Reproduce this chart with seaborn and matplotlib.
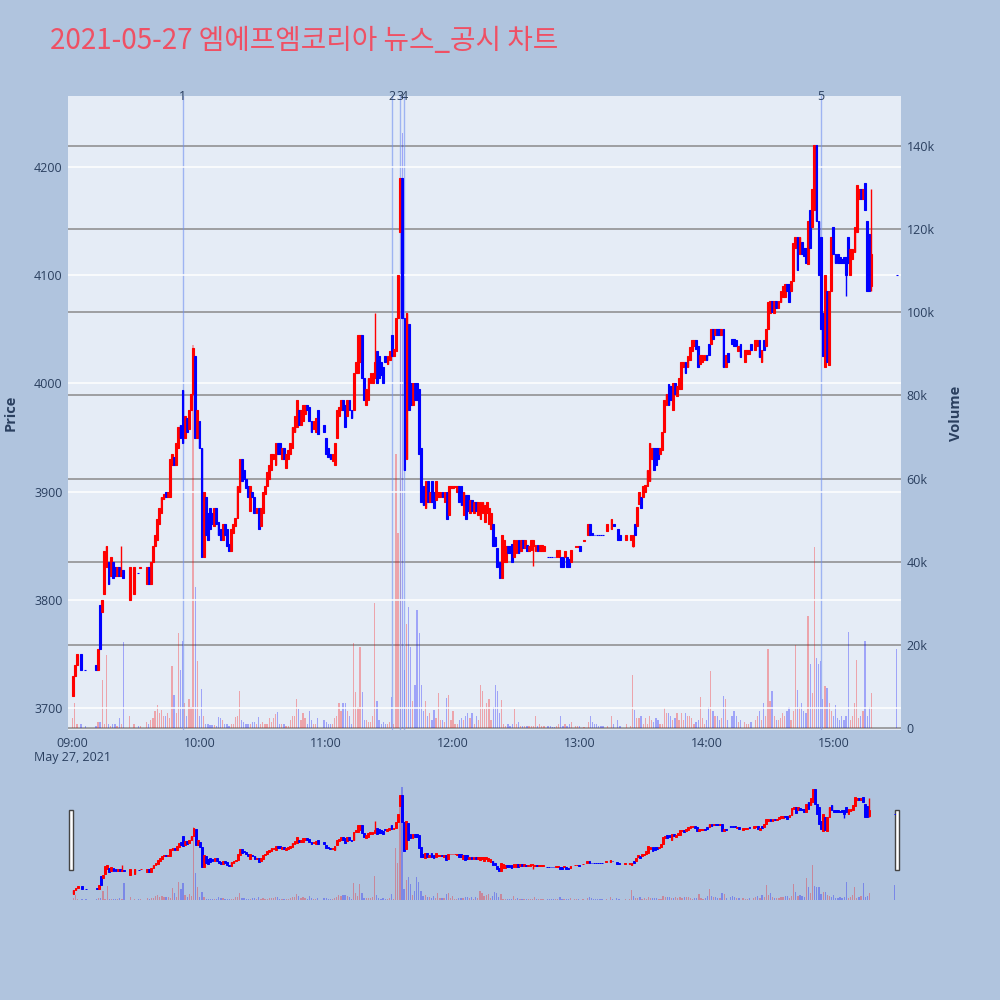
import numpy as np
import pandas as pd
import matplotlib
matplotlib.use("Agg")
import matplotlib.pyplot as plt
import seaborn as sns
from matplotlib.patches import Rectangle

sns.set_theme(style="white")
plt.rcParams['font.family'] = ['Open Sans', 'Noto Sans CJK KR', 'DejaVu Sans']

N = None
# ---- data: one entry per minute from 09:00 (None = no trade) ----
opens = [
    3711, 3730, 3740, N, 3750, N, 3735, N, N, N,
    N, 3740, 3735, 3795, 3789, 3805, 3830, 3835, 3822, 3835,
    3830, 3822, 3830, 3822, 3828, N, N, 3800, N, 3805,
    N, 3825, 3829, N, N, 3815, 3830, 3815, 3835, 3850,
    3855, 3870, 3880, 3893, 3900, 3895, 3895, 3925, 3932, 3925,
    3940, 3962, 3994, 3950, 3968, 3958, 3975, 3990, 4025, 3950,
    3965, 3940, 3840, 3895, 3880, 3885, 3880, 3868, 3885, 3872,
    3865, 3855, 3870, 3865, 3852, 3845, 3862, 3868, 3876, 3900,
    3930, 3920, 3912, 3905, 3882, 3900, 3895, 3880, 3885, 3868,
    3880, 3898, 3905, 3912, 3920, 3930, 3925, 3945, 3945, 3930,
    3940, 3922, 3930, 3935, 3940, 3955, 3960, 3975, 3962, 3965,
    3972, 3980, 3978, 3965, 3958, 3955, 3975, N, N, 3962,
    3950, 3940, 3935, 3928, 3925, 3950, 3970, 3975, 3985, 3980,
    3970, 3985, 3975, 3975, 4010, 4010, 4020, 4045, 4005, 3980,
    3985, 4000, 4000, 4005, 4030, 4025, 4020, 4015, 4025, 4018,
    4022, 4045, 4025, 4030, 4060, 4140, 4190, 4060, 3930, 4055,
    4000, 3980, 4000, 4000, 3995, 3940, 3905, 3885, 3910, 3890,
    3910, 3900, 3892, 3895, 3895, 3900, 3890, 3900, 3878, 3903,
    3903, 3904, 3900, 3905, 3905, 3878, 3897, 3897, 3880, 3892,
    3880, 3890, 3878, 3875, 3880, 3872, 3880, 3870, 3865, 3870,
    3858, 3848, 3835, 3820, 3835, 3835, 3850, 3850, 3852, 3840,
    3843, 3855, 3845, 3855, 3848, 3851, 3845, 3846, 3850, 3845,
    3851, 3845, 3845, 3845, N, 3840, 3840, 3840, 3840, 3840,
    3840, 3840, 3840, 3840, 3840, 3838, 3835, N, 3849, 3849,
    3850, N, 3854, N, 3860, 3870, 3862, 3860, 3860, 3860,
    3860, 3860, N, 3864, N, 3865, 3870, N, 3865, 3860,
    N, N, 3855, N, 3855, 3850, 3870, 3868, 3889, 3895,
    3895, 3900, 3905, 3910, 3930, 3940, 3940, 3940, 3935, 3938,
    3955, 3980, 3999, 3998, 3975, 4000, 3988, 3995, 3995, 4015,
    4020, 4015, 4022, 4030, 4035, 4040, 4035, 4018, 4020, 4022,
    4026, 4036, 4036, 4050, 4045, 4050, 4050, 4045, 4050, 4015,
    4028, N, 4041, 4041, 4040, 4030, 4036, N, 4020, 4027,
    4027, 4036, N, 4031, 4035, 4040, 4020, 4040, 4035, 4050,
    4065, 4076, 4065, 4076, 4070, 4075, 4080, 4080, 4092, 4092,
    4085, 4095, 4125, 4135, 4120, 4131, 4125, 4125, 4110, 4160,
    4145, 4160, 4220, 4150, 4135, 4065, 4015, 4085, 4017, 4085,
    4145, 4120, 4120, 4117, 4115, 4117, 4117, 4135, 4100, 4115,
    4121, 4140, 4170, 4180, 4170, 4185, 4150, 4138, 4090, N,
    N, N, N, N, N, N, N, N, N, N,
    4100,
]
closes = [
    3730, 3740, 3750, N, 3735, N, 3735, N, N, N,
    N, 3735, 3755, 3755, 3800, 3845, 3850, 3815, 3840, 3820,
    3822, 3830, 3822, 3828, 3820, N, N, 3830, N, 3830,
    N, 3825, 3830, N, N, 3830, 3815, 3835, 3850, 3860,
    3875, 3885, 3895, 3898, 3895, 3900, 3930, 3935, 3925, 3945,
    3960, 3950, 3945, 3970, 3955, 3975, 3990, 4033, 3950, 3975,
    3940, 3840, 3900, 3860, 3855, 3865, 3870, 3885, 3870, 3860,
    3855, 3870, 3860, 3850, 3845, 3865, 3870, 3876, 3905, 3930,
    3910, 3912, 3903, 3895, 3905, 3895, 3880, 3885, 3865, 3885,
    3900, 3905, 3918, 3925, 3935, 3935, 3945, 3935, 3935, 3940,
    3930, 3935, 3938, 3945, 3960, 3970, 3985, 3962, 3975, 3980,
    3980, 3975, 3965, 3955, 3965, 3968, 3953, N, N, 3955,
    3935, 3932, 3930, 3935, 3945, 3975, 3978, 3985, 3975, 3960,
    3985, 3975, 3968, 4010, 4020, 4045, 4045, 4005, 3985, 3995,
    4005, 4010, 4010, 4020, 4000, 4005, 4008, 4000, 4020, 4025,
    4030, 4025, 4032, 4060, 4100, 4190, 4060, 3920, 4065, 3975,
    3980, 4000, 3985, 3985, 3935, 3890, 3888, 3910, 3890, 3900,
    3890, 3885, 3910, 3900, 3900, 3895, 3900, 3875, 3905, 3905,
    3905, 3905, 3905, 3890, 3888, 3900, 3875, 3882, 3892, 3882,
    3890, 3882, 3890, 3890, 3890, 3888, 3890, 3885, 3880, 3850,
    3850, 3830, 3820, 3860, 3855, 3850, 3843, 3843, 3835, 3855,
    3855, 3843, 3855, 3848, 3855, 3845, 3850, 3855, 3855, 3851,
    3845, 3851, 3851, 3850, N, 3840, 3840, 3840, 3840, 3846,
    3846, 3830, 3830, 3845, 3830, 3830, 3846, N, 3850, 3850,
    3845, N, 3855, N, 3870, 3860, 3860, 3860, 3860, 3860,
    3860, 3860, N, 3870, N, 3875, 3868, N, 3855, 3855,
    N, N, 3860, N, 3860, 3860, 3860, 3886, 3900, 3885,
    3905, 3906, 3920, 3945, 3940, 3920, 3925, 3930, 3940, 3955,
    3985, 3990, 3980, 3985, 4000, 3990, 3998, 4005, 4020, 4020,
    4010, 4025, 4034, 4040, 4040, 4032, 4015, 4026, 4026, 4026,
    4022, 4026, 4050, 4041, 4050, 4045, 4045, 4050, 4015, 4026,
    4020, N, 4036, 4035, 4035, 4035, 4024, N, 4031, 4031,
    4031, 4031, N, 4040, 4040, 4024, 4031, 4031, 4050, 4075,
    4076, 4066, 4076, 4070, 4076, 4085, 4090, 4092, 4085, 4075,
    4095, 4130, 4135, 4105, 4135, 4120, 4118, 4111, 4150, 4125,
    4180, 4220, 4150, 4100, 4050, 4025, 4100, 4020, 4085, 4135,
    4120, 4111, 4111, 4111, 4111, 4111, 4100, 4111, 4124, 4124,
    4145, 4183, 4180, 4170, 4180, 4160, 4085, 4085, 4120, N,
    N, N, N, N, N, N, N, N, N, N,
    4100,
]
# volume in thousands of shares
volumes_k = [
    2.4, 6, 1, N, 1, N, 0.5, N, N, N,
    N, 0.5, 1.5, 1.5, 11.5, 1, 17.5, 1, 0.5, 1,
    1, 0.5, 2.3, 1, 20.6, N, N, 3, N, 1,
    N, 0.5, 0.5, N, N, 1.5, 1, 2, 2.5, 4,
    5.5, 3.5, 4.3, 3, 3, 3.5, 2.5, 15, 8, 3.5,
    22.8, 14, 21, 6, 3, 7, 5, 92, 34, 16,
    3, 9.5, 3, 1, 1, 0.8, 0.8, 0.8, 0.5, 2.7,
    2.5, 2, 1, 1, 0.5, 1, 1, 2.7, 3, 9,
    2, 1.5, 1, 1, 1, 1.5, 1.5, 1, 2.7, 1,
    1.5, 1, 1, 2.5, 1.5, 2.5, 3.3, 3.8, 1, 1,
    1, 0.5, 0.5, 2, 3, 3, 7, 4.5, 2, 3.5,
    2.5, 1, 4, 2, 1, 1, 2.5, N, N, 2,
    1.5, 1, 1, 1, 2.5, 3, 6, 4, 6, 6,
    4, 3, 1, 20.5, 8.7, 5, 19.6, 8.7, 2, 2,
    1.5, 1.5, 3, 30, 6.5, 2, 1, 1.5, 1, 1,
    1.5, 7.4, 1, 66, 47, 132, 143, 14, 25, 29,
    19.6, 6.4, 10.4, 28.5, 22.8, 10.4, 4, 6.4, 3, 3.6,
    2, 4.4, 2.5, 8.4, 2, 2, 1.5, 7.2, 8, 2,
    4, 1, 1, 2, 2.5, 2, 3, 3.5, 2.5, 3.5,
    1, 3, 2, 10.4, 9, 4.5, 6, 7, 2, 5,
    10.3, 9, 3.5, 6.7, 1, 0.5, 1, 0.5, 1, 4.5,
    1, 1.5, 0.5, 0.5, 0.5, 0.5, 0.5, 0.5, 0.5, 3,
    0.5, 1, 0.5, 0.5, N, 0.5, 0.5, 0.3, 0.3, 0.5,
    1, 3, 0.5, 1, 0.5, 1, 1.5, N, 0.5, 0.5,
    0.5, N, 0.3, N, 1.5, 3, 1.5, 1, 1, 0.5,
    0.5, 0.5, N, 0.5, N, 3, 1, N, 2, 0.5,
    N, N, 1, N, 0.5, 12.7, 4.3, 2.5, 2.5, 3,
    1, 2.5, 1, 3, 2, 1.5, 2.5, 2, 1, 1,
    4.7, 3.5, 3.5, 3, 2, 2.5, 3.5, 2, 3.5, 2,
    3.5, 3, 3, 2.5, 1, 1.5, 2, 7.4, 2.5, 1,
    2, 5, 13.7, 4, 3, 3, 2, 2.5, 7.8, 7,
    2, N, 3, 4, 3, 1.5, 2, N, 1.5, 1,
    1, 1.5, N, 2, 3, 4, 2, 6, 3, 19,
    6.5, 9, 3, 2, 2, 2.5, 3.5, 3, 4, 5,
    2, 4, 20, 9.2, 5, 6, 4, 3.5, 27, 15.5,
    8.3, 43.5, 16.9, 15.5, 16, 7, 10, 9.6, 6, 4,
    3, 5.6, 2.5, 2, 3, 2, 3, 23, 2, 3,
    6, 16.4, 2.5, 3, 4, 21, 3, 5, 8.3, N,
    N, N, N, N, N, N, N, N, N, N,
    19,
]
# extra wicks: minute -> (low, high)
wicks = {23: (3822, 3850), 101: (3922, 3935), 143: (4005, 4065), 218: (3831, 3855),
         265: (3849, 3860), 366: (4081, 4117), 378: (4085, 4180)}
news_times = ["09:52", "11:31", "11:35", "11:37", "14:54"]
news_labels = ["1", "2", "3", "4", "5"]
time_ticks = ["09:00", "10:00", "11:00", "12:00", "13:00", "14:00", "15:00"]
price_ticks = [3700, 3800, 3900, 4000, 4100, 4200]
volume_ticks = [0, 20000, 40000, 60000, 80000, 100000, 120000, 140000]
volume_tick_labels = ["0", "20k", "40k", "60k", "80k", "100k", "120k", "140k"]
title = "2021-05-27 엠에프엠코리아 뉴스_공시 차트"

# ---- build frame ----
times = pd.date_range("2021-05-27 09:00", periods=len(opens), freq="min")
df = pd.DataFrame({"time": times, "open": opens, "close": closes, "volume": volumes_k})
df["open"] = df["open"].astype(float)
df["close"] = df["close"].astype(float)
df["volume"] = df["volume"].astype(float) * 1000
df["x"] = (df["time"] - times[0]).dt.total_seconds() / 60.0
df = df.dropna(subset=["open"]).copy()
df["low"] = df[["open", "close"]].min(axis=1)
df["high"] = df[["open", "close"]].max(axis=1)
for m, (lo, hi) in wicks.items():
    sel = df["x"] == m
    df.loc[sel, "low"] = lo
    df.loc[sel, "high"] = hi
RED, BLUE = "#FF0000", "#0000FF"
df["color"] = np.where(df["close"] > df["open"], RED, BLUE)

def to_min(s):
    h, mm = s.split(":")
    return (int(h) - 9) * 60 + int(mm)

FIG_BG = "#B0C4DE"
PLOT_BG = "#E5ECF6"
TXT = "#2a3f5f"

fig = plt.figure(figsize=(10, 10), dpi=100, facecolor=FIG_BG)

def draw(ax_p, ax_v, body_w, body_lw):
    ax_v.bar(df["x"], df["volume"], width=0.6, color=df["color"], alpha=0.3, linewidth=0)
    ax_p.vlines(df["x"], df["low"], df["high"], colors=df["color"], linewidth=1.0)
    ax_p.bar(df["x"], df["close"] - df["open"], bottom=df["open"], width=body_w,
             color=df["color"], edgecolor=df["color"], linewidth=body_lw)

PY = (3679.7, 4265.6)
VY = (-480, 152000)

# main panel
ax_p = fig.add_axes([0.068, 0.27, 0.833, 0.634])
ax_v = ax_p.twinx()
ax_v.set_zorder(0)
ax_p.set_zorder(1)
ax_p.patch.set_visible(False)
ax_v.patch.set_visible(True)
ax_v.patch.set_facecolor(PLOT_BG)
for a in (ax_p, ax_v):
    for s in a.spines.values():
        s.set_visible(False)

ax_v.set_ylim(*VY)
ax_v.set_yticks(volume_ticks)
ax_v.set_yticklabels(volume_tick_labels)
ax_v.grid(axis="y", color="#8a8a8a", linewidth=1.1)
ax_v.grid(axis="x", visible=False)
ax_v.tick_params(axis="y", length=0, pad=4, labelsize=9, labelcolor=TXT)

ax_p.set_ylim(*PY)
ax_p.set_xlim(-2.2, 392)
ax_p.set_yticks(price_ticks)
ax_p.grid(axis="y", color="white", linewidth=1.1)
ax_p.grid(axis="x", visible=False)
ax_p.set_axisbelow(True)
ax_p.tick_params(axis="y", length=0, pad=4, labelsize=9, labelcolor=TXT)
ax_p.set_xticks([to_min(t) for t in time_ticks])
ax_p.set_xticklabels(time_ticks)
ax_p.tick_params(axis="x", length=0, pad=5, labelsize=9, labelcolor=TXT)

draw(ax_p, ax_v, 0.85, 0.8)

for t, lab in zip(news_times, news_labels):
    m = to_min(t)
    ax_p.axvline(m, color="#6f8ff0", linewidth=1.0, alpha=0.6, zorder=0.5)
    ax_p.text(m, 1.0, lab, transform=ax_p.get_xaxis_transform(), ha="center",
              va="center", fontsize=9, color=TXT)

ax_p.set_ylabel("Price", fontsize=10.5, color=TXT, fontweight="bold", labelpad=12)
ax_v.set_ylabel("Volume", fontsize=10.5, color=TXT, fontweight="bold", labelpad=10)
fig.text(0.073, 0.242, "May 27, 2021", ha="center", va="center", fontsize=9, color=TXT)
fig.text(0.05, 0.959, title, ha="left", va="center", fontsize=20, color="#EF5064",
         family=["Noto Sans CJK KR", "DejaVu Sans"])

# range slider
ax_s = fig.add_axes([0.072, 0.10, 0.824, 0.12])
ax_sv = ax_s.twinx()
ax_sv.set_zorder(0)
ax_s.set_zorder(1)
ax_s.patch.set_visible(False)
ax_sv.patch.set_facecolor(PLOT_BG)
for a in (ax_s, ax_sv):
    for s in a.spines.values():
        s.set_visible(False)
    a.set_xticks([])
    a.set_yticks([])
    a.grid(False)
ax_s.set_xlim(-0.7, 390.6)
ax_s.set_ylim(*PY)
ax_sv.set_ylim(*VY)
draw(ax_s, ax_sv, 0.85, 0.7)

for x0 in (69, 895):
    fig.add_artist(Rectangle((x0 / 1000, 0.13), 0.004, 0.06, transform=fig.transFigure,
                             facecolor="white", edgecolor="#444444", linewidth=1))

fig.savefig("out.png", dpi=100, facecolor=FIG_BG)
